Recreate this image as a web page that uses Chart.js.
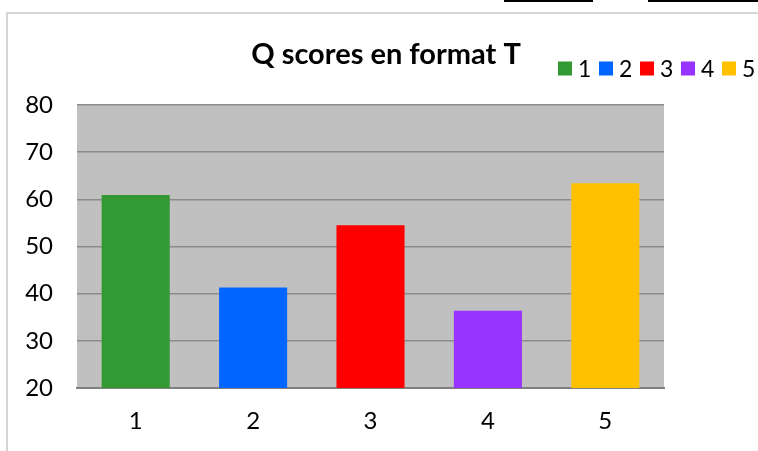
<!DOCTYPE html>
<html>
<head>
<meta charset="utf-8">
<script src="https://cdn.jsdelivr.net/npm/chart.js@4.4.1/dist/chart.umd.min.js"></script>
<style>
  html, body { margin: 0; padding: 0; background: #fff; }
  #wrap { position: relative; width: 758px; height: 451px; overflow: hidden; }
  #frameTop { position: absolute; left: 7px; top: 12px; width: 751px; height: 2px; background: #d4d4d4; }
  #frameLeft { position: absolute; left: 6px; top: 12px; width: 2px; height: 439px; background: #d4d4d4; }
  .blk { position: absolute; top: 0; height: 2px; background: #000; }
  canvas { position: absolute; left: 0; top: 0; }
</style>
</head>
<body>
<div id="wrap">
  <div id="frameTop"></div>
  <div id="frameLeft"></div>
  <div class="blk" style="left:504px;width:89px"></div>
  <div class="blk" style="left:648px;width:110px"></div>
  <canvas id="c" width="758" height="451"></canvas>
</div>
<script>
const categories = ['1', '2', '3', '4', '5'];
const scores = [60.9, 41.3, 54.5, 36.4, 63.4];
const barColors = ['#339933', '#0066ff', '#ff0000', '#9933ff', '#ffc000'];
const yTicks = [20, 30, 40, 50, 60, 70, 80];
const chartTitle = 'Q scores en format T';

const FONT = 'Lato, "Open Sans", sans-serif';

const plotBg = {
  id: 'plotBg',
  beforeDraw(chart) {
    const { ctx, chartArea: a } = chart;
    ctx.save();
    ctx.fillStyle = '#c0c0c0';
    ctx.fillRect(a.left, a.top, a.right - a.left, a.bottom - a.top);
    ctx.restore();
  }
};

const titleLegend = {
  id: 'titleLegend',
  afterDraw(chart) {
    const ctx = chart.ctx;
    ctx.save();
    ctx.fillStyle = '#000';
    ctx.font = 'bold 29px ' + FONT;
    ctx.textAlign = 'center';
    ctx.textBaseline = 'alphabetic';
    ctx.fillText(chartTitle, 386, 64);
    // legend
    ctx.font = '23px ' + FONT;
    ctx.textAlign = 'left';
    ctx.textBaseline = 'middle';
    let x = 558;
    const yc = 68.5;
    categories.forEach((cat, i) => {
      ctx.fillStyle = barColors[i];
      ctx.fillRect(x, yc - 7, 14, 14);
      ctx.fillStyle = '#000';
      ctx.fillText(cat, x + 20, yc + 1);
      x += 41;
    });
    ctx.restore();
  }
};

new Chart(document.getElementById('c'), {
  type: 'bar',
  data: {
    labels: categories,
    datasets: [{
      data: scores,
      backgroundColor: barColors,
      borderWidth: 0,
      barPercentage: 0.58,
      categoryPercentage: 1.0
    }]
  },
  options: {
    responsive: false,
    animation: false,
    devicePixelRatio: 1,
    layout: { padding: { top: 105, right: 94, bottom: 0, left: 0 } },
    plugins: {
      legend: { display: false },
      title: { display: false },
      tooltip: { enabled: false }
    },
    scales: {
      x: {
        grid: { display: false, drawTicks: false },
        border: { display: true, color: '#808080', width: 2 },
        ticks: { color: '#000', font: { family: FONT, size: 24 }, padding: 19 },
        afterFit(s) { s.height = 63; }
      },
      y: {
        min: yTicks[0],
        max: yTicks[yTicks.length - 1],
        afterBuildTicks(s) { s.ticks = yTicks.map(v => ({ value: v })); },
        grid: { color: '#8c8c8c', lineWidth: 1.5, drawTicks: false },
        border: { display: false },
        ticks: { color: '#000', font: { family: FONT, size: 24 }, padding: 24 },
        afterFit(s) { s.width = 77; }
      }
    }
  },
  plugins: [plotBg, titleLegend]
});
</script>
</body>
</html>
